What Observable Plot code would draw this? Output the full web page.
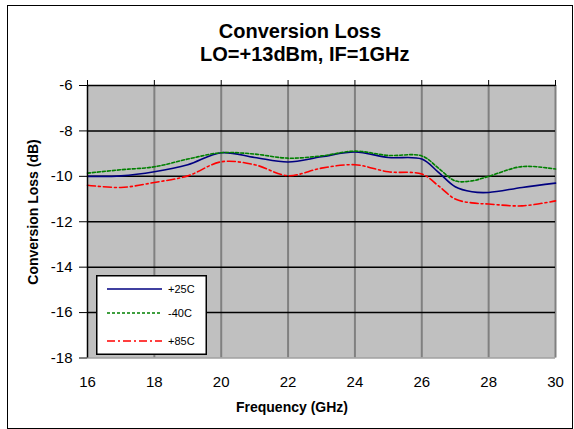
<!DOCTYPE html>
<html>
<head>
<meta charset="utf-8">
<script src="https://cdn.jsdelivr.net/npm/d3@7"></script>
<script src="https://cdn.jsdelivr.net/npm/@observablehq/plot@0.6"></script>
<style>
  html, body { margin: 0; padding: 0; background: #fff; }
  #wrap { position: relative; width: 574px; height: 429px; overflow: hidden; font-family: "Liberation Sans", Arial, sans-serif; }
  #border { position: absolute; left: 7px; top: 5px; width: 566px; height: 424px; border: 1.5px solid #000; box-sizing: border-box; }
  #chart { position: absolute; left: 0; top: 0; }
  .title { position: absolute; left: 200px; width: 200px; text-align: center; font-weight: bold; font-size: 20px; color: #000; white-space: nowrap; }
  #xlab { position: absolute; left: 192px; width: 200px; top: 399px; text-align: center; font-weight: bold; font-size: 14px; }
  #ylab { position: absolute; left: 33px; top: 212px; transform: translate(-50%, -50%) rotate(-90deg); font-weight: bold; font-size: 14px; white-space: nowrap; }
  #legend { position: absolute; left: 96px; top: 275px; }
</style>
</head>
<body>
<div id="wrap">
  <div id="border"></div>
  <div id="chart"></div>
  <div class="title" style="top:20px">Conversion Loss</div>
  <div class="title" style="top:43px">LO=+13dBm, IF=1GHz</div>
  <div id="xlab">Frequency (GHz)</div>
  <div id="ylab">Conversion Loss (dB)</div>
  <div id="legend"></div>
</div>
<script>
const freq   = [16, 17, 18, 19, 20, 21, 22, 23, 24, 25, 26, 26.5, 27, 27.5, 28, 29, 30];
const plus25 = [-10.0, -9.98, -9.8, -9.49, -8.96, -9.17, -9.37, -9.14, -8.93, -9.17, -9.24, -9.83, -10.46, -10.68, -10.71, -10.49, -10.3];
const minus40 = [-9.86, -9.71, -9.58, -9.24, -8.96, -9.02, -9.2, -9.1, -8.89, -9.08, -9.1, -9.64, -10.2, -10.2, -10.0, -9.57, -9.68];
const plus85 = [-10.39, -10.49, -10.27, -9.98, -9.36, -9.49, -9.97, -9.64, -9.49, -9.8, -9.9, -10.42, -11.0, -11.17, -11.22, -11.3, -11.08];

const seriesNames = ["+25C", "-40C", "+85C"];
const seriesColors = ["#000080", "#008000", "#ff0000"];
const seriesDash = [null, "3,2", "8,3,2,3"];
const seriesValues = [plus25, minus40, plus85];

const xTicks = [16, 18, 20, 22, 24, 26, 28, 30];
const yTicks = [-6, -8, -10, -12, -14, -16, -18];

const data = [];
seriesNames.forEach((s, i) => freq.forEach((f, j) => data.push({series: s, freq: f, loss: seriesValues[i][j]})));

const lineMarks = seriesNames.map((s, i) =>
  Plot.line(data.filter(d => d.series === s), {
    x: "freq", y: "loss", stroke: seriesColors[i], strokeWidth: 1.6,
    strokeDasharray: seriesDash[i], curve: "catmull-rom"
  })
);

const chart = Plot.plot({
  width: 574, height: 429,
  marginLeft: 87, marginRight: 19, marginTop: 85, marginBottom: 71.5,
  style: { background: "transparent", fontFamily: "Liberation Sans, Arial, sans-serif", fontSize: "15px", color: "#000" },
  x: { domain: [16, 30], ticks: xTicks },
  y: { domain: [-18, -6], ticks: yTicks },
  marks: [
    Plot.frame({ fill: "#c0c0c0", stroke: null }),
    Plot.ruleX(xTicks.filter(t => t !== 16), { stroke: "#808080", strokeWidth: 2 }),
    Plot.ruleY(yTicks.filter(t => t !== -18), { stroke: "#000", strokeWidth: 1.5 }),
    Plot.ruleY([-18], { stroke: "#a0a0a0", strokeWidth: 1.5 }),
    ...lineMarks,
    Plot.ruleX([16], { stroke: "#000", strokeWidth: 1.5 }),
    Plot.axisY({ ticks: yTicks, tickSize: 8, tickPadding: 7, fontSize: 15, label: null, stroke: "#000", tickFormat: d => String(d) }),
    Plot.axisX({ anchor: "top", ticks: xTicks, tickSize: 6, tickFormat: () => "", label: null, stroke: "#000" }),
    Plot.axisX({ anchor: "bottom", ticks: xTicks, tickSize: 0, tickPadding: 18, fontSize: 15, label: null, tickFormat: d => String(d) })
  ]
});
document.getElementById("chart").appendChild(chart);

// legend
const lw = 111, lh = 80;
const ns = "http://www.w3.org/2000/svg";
const svg = document.createElementNS(ns, "svg");
svg.setAttribute("width", lw); svg.setAttribute("height", lh);
const box = document.createElementNS(ns, "rect");
box.setAttribute("x", 0.75); box.setAttribute("y", 0.75); box.setAttribute("width", lw - 1.5); box.setAttribute("height", lh - 1.5);
box.setAttribute("fill", "#fff"); box.setAttribute("stroke", "#000"); box.setAttribute("stroke-width", 1.5);
svg.appendChild(box);
const rowY = [14, 38, 66];
seriesNames.forEach((s, i) => {
  const ln = document.createElementNS(ns, "line");
  ln.setAttribute("x1", 11); ln.setAttribute("x2", 66);
  ln.setAttribute("y1", rowY[i]); ln.setAttribute("y2", rowY[i]);
  ln.setAttribute("stroke", seriesColors[i]); ln.setAttribute("stroke-width", 1.5);
  if (seriesDash[i]) ln.setAttribute("stroke-dasharray", seriesDash[i]);
  svg.appendChild(ln);
  const tx = document.createElementNS(ns, "text");
  tx.setAttribute("x", 72); tx.setAttribute("y", rowY[i] + 4);
  tx.setAttribute("font-size", 11); tx.setAttribute("font-family", "Liberation Sans, Arial, sans-serif");
  tx.textContent = s;
  svg.appendChild(tx);
});
document.getElementById("legend").appendChild(svg);
</script>
</body>
</html>
